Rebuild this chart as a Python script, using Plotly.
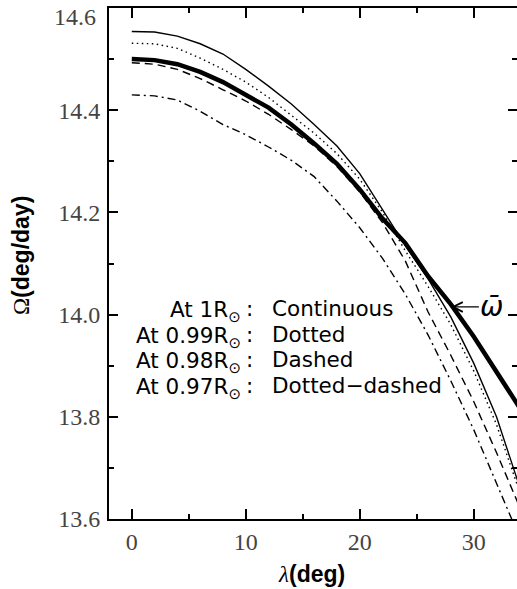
import plotly.graph_objects as go

# ---- data ----
lat = [0, 2, 4, 6, 8, 10, 12, 14, 16, 18, 20, 22, 24, 26, 28, 30, 32, 34]
omega_100 = [14.554, 14.553, 14.545, 14.530, 14.510, 14.480, 14.447, 14.412, 14.372,
             14.330, 14.276, 14.205, 14.135, 14.070, 13.995, 13.905, 13.800, 13.665]
omega_099 = [14.531, 14.530, 14.521, 14.502, 14.480, 14.455, 14.425, 14.390, 14.355,
             14.315, 14.265, 14.200, 14.125, 14.055, 13.980, 13.890, 13.785, 13.655]
omega_098 = [14.493, 14.490, 14.480, 14.462, 14.440, 14.418, 14.392, 14.362, 14.330,
             14.290, 14.240, 14.180, 14.105, 14.005, 13.920, 13.830, 13.730, 13.625]
omega_097 = [14.430, 14.428, 14.420, 14.398, 14.372, 14.352, 14.328, 14.302, 14.270,
             14.222, 14.170, 14.110, 14.040, 13.960, 13.870, 13.775, 13.670, 13.565]
omega_bar = [14.500, 14.498, 14.490, 14.475, 14.455, 14.430, 14.405, 14.372, 14.335,
             14.295, 14.245, 14.188, 14.140, 14.075, 14.020, 13.957, 13.888, 13.819]

x_ticks = [0, 10, 20, 30]
x_minor = [5, 15, 25]
y_ticks = [13.6, 13.8, 14.0, 14.2, 14.4, 14.6]
y_tick_text = ["13.6", "13.8", "14.0", "14.2", "14.4", ""]
y_top_label = "14.6"
y_minor = [13.7, 13.9, 14.1, 14.3, 14.5]

legend_left = ["At 1R<sub>\u2299</sub>", "At 0.99R<sub>\u2299</sub>",
               "At 0.98R<sub>\u2299</sub>", "At 0.97R<sub>\u2299</sub>"]
legend_right = ["Continuous", "Dotted", "Dashed", "Dotted\u2212dashed"]

# ---- layout geometry (pixels) ----
W, H = 517, 589
ML, MR, MT, MB = 109, 0, 8, 70
XR = [-2, 33.8]
YR = [13.6, 14.6]


def px_to_x(px):
    return XR[0] + (px - ML) / (W - ML - MR) * (XR[1] - XR[0])


def py_to_y(py):
    return YR[1] - (py - MT) / (H - MT - MB) * (YR[1] - YR[0])


fig = go.Figure()
thin = 1.4
fig.add_trace(go.Scatter(x=lat, y=omega_100, mode="lines",
                         line=dict(color="black", width=thin)))
fig.add_trace(go.Scatter(x=lat, y=omega_099, mode="lines",
                         line=dict(color="black", width=thin, dash="1.5px,3.5px")))
fig.add_trace(go.Scatter(x=lat, y=omega_098, mode="lines",
                         line=dict(color="black", width=thin, dash="8px,5px")))
fig.add_trace(go.Scatter(x=lat, y=omega_097, mode="lines",
                         line=dict(color="black", width=thin, dash="8px,4px,2px,4px")))
fig.add_trace(go.Scatter(x=lat, y=omega_bar, mode="lines",
                         line=dict(color="black", width=4.5)))
# invisible trace for right-hand tick axis
fig.add_trace(go.Scatter(x=[lat[0]], y=[omega_bar[0]], yaxis="y2", mode="markers",
                         marker=dict(opacity=0), hoverinfo="skip"))

tickfont = dict(family="Liberation Serif", size=24, color="#444")
minor_common = dict(ticks="inside", ticklen=5, tickwidth=2, tickcolor="black")

fig.update_layout(
    width=W, height=H,
    margin=dict(l=ML, r=MR, t=MT, b=MB),
    paper_bgcolor="white", plot_bgcolor="white",
    showlegend=False,
    xaxis=dict(range=XR, tickmode="array", tickvals=x_ticks, ticks="inside",
               ticklen=10, tickwidth=2, tickcolor="black", showline=True,
               linecolor="black", linewidth=2, mirror="ticks", showgrid=False,
               zeroline=False, tickfont=tickfont,
               minor=dict(tickmode="array", tickvals=x_minor, **minor_common)),
    yaxis=dict(range=YR, tickmode="array", tickvals=y_ticks, ticktext=y_tick_text,
               ticks="inside", ticklen=9, tickwidth=2, tickcolor="black",
               showline=True, linecolor="black", linewidth=2, mirror=False,
               showgrid=False, zeroline=False, tickfont=tickfont,
               ticklabelstandoff=2,
               minor=dict(tickmode="array", tickvals=y_minor, **minor_common)),
    yaxis2=dict(range=YR, overlaying="y", side="right", anchor="x",
                tickmode="array", tickvals=y_ticks, ticks="inside", ticklen=9,
                tickwidth=2, tickcolor="black", showticklabels=False,
                showline=False, showgrid=False, zeroline=False,
                minor=dict(tickmode="array", tickvals=y_minor, **minor_common)),
)

# top y tick label (pushed inside the figure, as in the reference)
fig.add_annotation(xref="paper", x=0, xshift=-11, y=YR[1], yshift=-9,
                   text=y_top_label, showarrow=False, xanchor="right",
                   yanchor="middle", font=tickfont)

legfont = dict(family="DejaVu Sans", size=21.5, color="black")
line_py = [308.5, 334, 359.5, 385]
for lt, rt, py in zip(legend_left, legend_right, line_py):
    yv = py_to_y(py)
    fig.add_annotation(x=px_to_x(243), y=yv, text=lt, showarrow=False,
                       xanchor="right", yanchor="middle", font=legfont, yshift=-3)
    fig.add_annotation(x=px_to_x(249), y=yv, text=":", showarrow=False,
                       xanchor="center", yanchor="middle", font=legfont)
    fig.add_annotation(x=px_to_x(270), y=yv, text=rt, showarrow=False,
                       xanchor="left", yanchor="middle", font=legfont)

# omega-bar arrow label
fig.add_annotation(x=28.0, y=14.015, text="<i>\u03c9\u0304</i>", showarrow=True,
                   ax=41, ay=0, arrowhead=5, arrowsize=1.6, arrowwidth=1.2,
                   arrowcolor="black",
                   font=dict(family="DejaVu Sans", size=28, color="black"))

# axis titles
title_font = dict(family="Liberation Sans", size=23, color="black")
fig.add_annotation(xref="paper", yref="paper", x=(311 - ML) / (W - ML - MR), y=0,
                   yshift=-(574 - (H - MB)), showarrow=False, xanchor="center",
                   yanchor="middle",
                   text="<span style='font-family:Liberation Serif;font-style:italic;font-weight:normal'>\u03bb</span><b>(deg)</b>",
                   font=title_font)
fig.add_annotation(xref="paper", yref="paper", x=0, y=0.5, xshift=-(ML - 21),
                   yshift=(263.5 - 256), textangle=-90, showarrow=False,
                   xanchor="center", yanchor="middle",
                   text="<span style='font-family:Liberation Serif;font-weight:normal'>\u03a9</span><b>(deg/day)</b>",
                   font=title_font)

fig.write_html("out.html", config={"displayModeBar": False},
               post_script="document.body.style.margin='0';document.body.style.overflow='hidden';")
